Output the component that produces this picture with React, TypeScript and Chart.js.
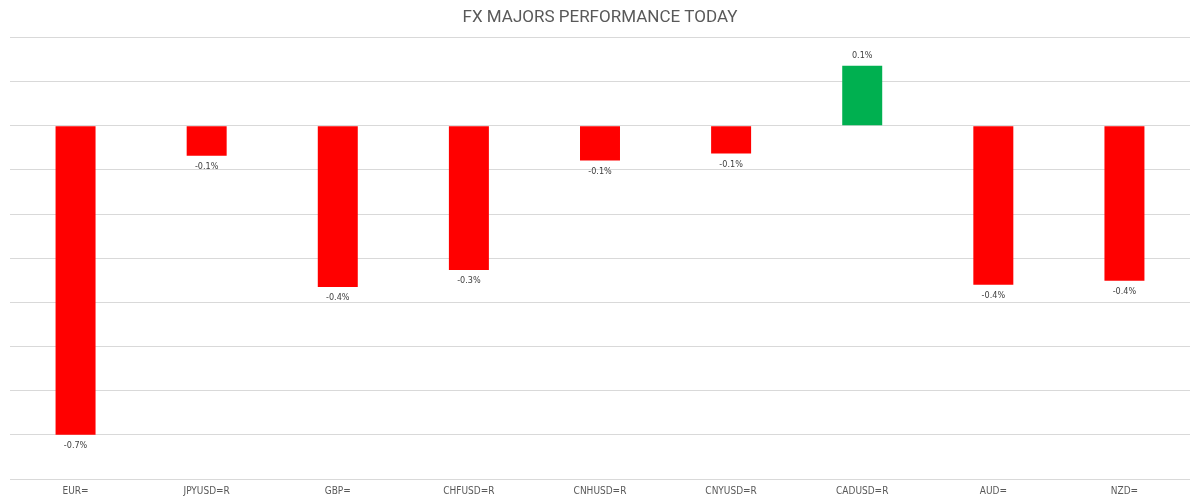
import React, { useEffect, useRef } from "react";
import { Chart, registerables } from "chart.js";

Chart.register(...registerables);

const categories = [
  "EUR=",
  "JPYUSD=R",
  "GBP=",
  "CHFUSD=R",
  "CNHUSD=R",
  "CNYUSD=R",
  "CADUSD=R",
  "AUD=",
  "NZD=",
];
const changes = [-0.7, -0.068, -0.365, -0.327, -0.079, -0.063, 0.136, -0.36, -0.351];

const RED = "#ff0000";
const GREEN = "#00b050";
const LABEL_FONT = "'Liberation Sans Narrow', 'DejaVu Sans Condensed', 'Noto Sans', sans-serif";

// draws "-0.4%" under (or above) each bar end
const barLabels = {
  id: "barLabels",
  afterDatasetsDraw(chart: Chart) {
    const { ctx } = chart;
    const meta = chart.getDatasetMeta(0);
    ctx.save();
    ctx.font = `9px ${LABEL_FONT}`;
    ctx.fillStyle = "#404040";
    ctx.textAlign = "center";
    ctx.textBaseline = "middle";
    meta.data.forEach((bar: any, i: number) => {
      const v = changes[i];
      const y = v < 0 ? bar.y + 11 : bar.y - 10;
      ctx.fillText(`${v.toFixed(1)}%`, bar.x, y);
    });
    ctx.restore();
  },
};

export default function App() {
  const canvasRef = useRef<HTMLCanvasElement>(null);

  useEffect(() => {
    document.body.style.margin = "0";
    if (!canvasRef.current) return;
    const chart = new Chart(canvasRef.current, {
      type: "bar",
      data: {
        labels: categories,
        datasets: [
          {
            data: changes,
            backgroundColor: changes.map((v) => (v < 0 ? RED : GREEN)),
            categoryPercentage: 1,
            barPercentage: 0.305,
          },
        ],
      },
      options: {
        animation: false,
        responsive: true,
        maintainAspectRatio: false,
        layout: { padding: { left: 10, right: 10, top: 0, bottom: 0 } },
        plugins: {
          legend: { display: false },
          tooltip: { enabled: false },
          title: {
            display: true,
            text: "FX MAJORS PERFORMANCE TODAY",
            color: "#595959",
            font: { family: "Roboto, 'DejaVu Sans', sans-serif", size: 17, weight: "normal" },
            padding: { top: 8, bottom: 9 },
          },
        },
        scales: {
          x: {
            grid: { display: false, drawTicks: false },
            border: { display: false },
            ticks: {
              color: "#595959",
              font: { family: LABEL_FONT, size: 10 },
              padding: 6,
              maxRotation: 0,
            },
          },
          y: {
            min: -0.8,
            max: 0.2,
            border: { display: false },
            grid: { color: "#d9d9d9", drawTicks: false },
            ticks: { display: false, stepSize: 0.1 },
          },
        },
      },
      plugins: [barLabels],
    });
    return () => chart.destroy();
  }, []);

  return (
    <div style={{ width: 1200, height: 503, position: "relative" }}>
      <canvas ref={canvasRef} />
    </div>
  );
}
